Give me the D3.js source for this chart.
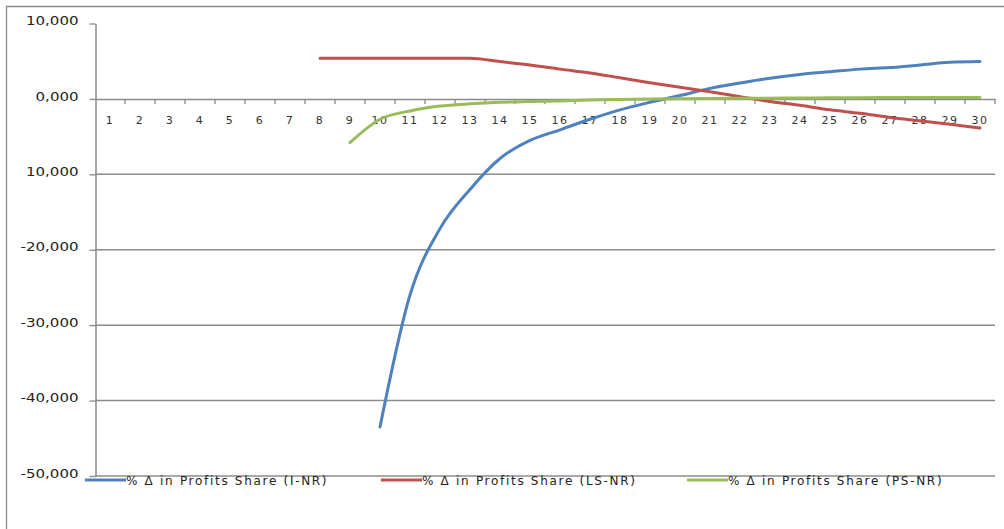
<!DOCTYPE html>
<html>
<head>
<meta charset="utf-8">
<script src="https://cdn.jsdelivr.net/npm/d3@7"></script>
<style>
  html, body { margin: 0; padding: 0; background: #fff; }
  svg { display: block; }
</style>
</head>
<body>
<svg id="chart" width="1004" height="529"></svg>
<script>
// ---- data ----
const categories = d3.range(1, 31);
const yTickValues = [10000, 0, -10000, -20000, -30000, -40000, -50000];
const yTickLabels = ["10,000", "0,000", "10,000", "-20,000", "-30,000", "-40,000", "-50,000"];
const seriesNames = ["% \u0394 in Profits Share (I-NR)", "% \u0394 in Profits Share (LS-NR)", "% \u0394 in Profits Share (PS-NR)"];
const seriesColors = ["#4f81bd", "#c0504d", "#9bbb59"];
const iNR = [null, null, null, null, null, null, null, null, null,
  -43500, -26000, -17200, -12000, -7900, -5500, -4100, -2700, -1450, -450,
  450, 1400, 2100, 2750, 3250, 3600, 3950, 4150, 4500, 4850, 4950];
const lsNR = [null, null, null, null, null, null, null,
  5400, 5400, 5400, 5400, 5400, 5400, 4950, 4500, 3950, 3450, 2800, 2150,
  1550, 950, 300, -350, -850, -1450, -1900, -2450, -2900, -3350, -3850];
const psNR = [null, null, null, null, null, null, null, null,
  -5800, -2700, -1600, -950, -650, -450, -350, -260, -150, -80, -20,
  30, 60, 80, 100, 120, 150, 170, 180, 190, 200, 200];
const seriesValues = [iNR, lsNR, psNR];

// ---- layout ----
const svg = d3.select("#chart");
const x = d3.scaleBand().domain(categories).range([95, 995]).paddingInner(0).paddingOuter(0);
const y = d3.scaleLinear().domain([-50000, 10000]).range([476, 23.5]);

// outer frame (top and left edges visible)
svg.append("path").attr("d", "M6.5,540 L6.5,6.5 L1004,6.5")
  .attr("fill", "none").attr("stroke", "#8a8a8a").attr("stroke-width", 1.3);

// gridlines
svg.append("g").selectAll("line")
  .data(yTickValues.filter(v => v < 0))
  .join("line")
  .attr("x1", 95).attr("x2", 995)
  .attr("y1", d => y(d)).attr("y2", d => y(d))
  .attr("stroke", "#8c8c8c").attr("stroke-width", 1.5);

// y axis
const yAxis = d3.axisLeft(y).tickValues(yTickValues)
  .tickFormat((d, i) => yTickLabels[i]).tickSizeInner(6).tickSizeOuter(0).tickPadding(11);
const gy = svg.append("g").attr("transform", "translate(95.5,0)").call(yAxis);
gy.select(".domain").attr("stroke", "#8a8a8a").attr("stroke-width", 1.5);
gy.selectAll(".tick line").attr("stroke", "#8a8a8a").attr("stroke-width", 1.3);
gy.selectAll(".tick text")
  .attr("font-family", "DejaVu Sans").attr("font-size", 12)
  .attr("fill", "#222").attr("dy", "0.1em")
  .each(function () {
    const w = this.getComputedTextLength();
    d3.select(this).attr("textLength", w * 1.25).attr("lengthAdjust", "spacingAndGlyphs");
  });

// x axis at zero
const xAxis = d3.axisBottom(x).tickSize(0).tickPadding(17);
const gx = svg.append("g").attr("transform", `translate(0,${y(0)})`).call(xAxis);
gx.select(".domain").attr("stroke", "#8a8a8a").attr("stroke-width", 1.5);
gx.selectAll(".tick text")
  .attr("font-family", "DejaVu Sans").attr("font-size", 11)
  .attr("letter-spacing", "1.5px").attr("fill", "#333");
// boundary tick marks
gx.append("g").selectAll("line")
  .data(categories)
  .join("line")
  .attr("x1", d => x(d) + x.bandwidth()).attr("x2", d => x(d) + x.bandwidth())
  .attr("y1", 0).attr("y2", 5)
  .attr("stroke", "#8a8a8a").attr("stroke-width", 1.3);

// lines
const line = d3.line()
  .defined(d => d.v !== null)
  .x(d => x(d.c) + x.bandwidth() / 2)
  .y(d => y(d.v))
  .curve(d3.curveMonotoneX);

seriesValues.forEach((vals, i) => {
  svg.append("path")
    .datum(categories.map((c, j) => ({ c, v: vals[j] })))
    .attr("fill", "none")
    .attr("stroke", seriesColors[i])
    .attr("stroke-width", 3)
    .attr("stroke-linejoin", "round")
    .attr("stroke-linecap", "round")
    .attr("d", line);
});

// legend
const legendX = [85, 381, 687];
const lg = svg.append("g");
seriesNames.forEach((name, i) => {
  const g = lg.append("g").attr("transform", `translate(${legendX[i]},480)`);
  g.append("line").attr("x1", 0).attr("x2", 41).attr("y1", 0).attr("y2", 0)
    .attr("stroke", seriesColors[i]).attr("stroke-width", 3);
  g.append("text").attr("x", 41).attr("y", 0).attr("dy", "0.38em")
    .attr("font-family", "DejaVu Sans").attr("font-size", 12)
    .attr("letter-spacing", "1.7px").attr("fill", "#222")
    .text(name);
});
</script>
</body>
</html>
